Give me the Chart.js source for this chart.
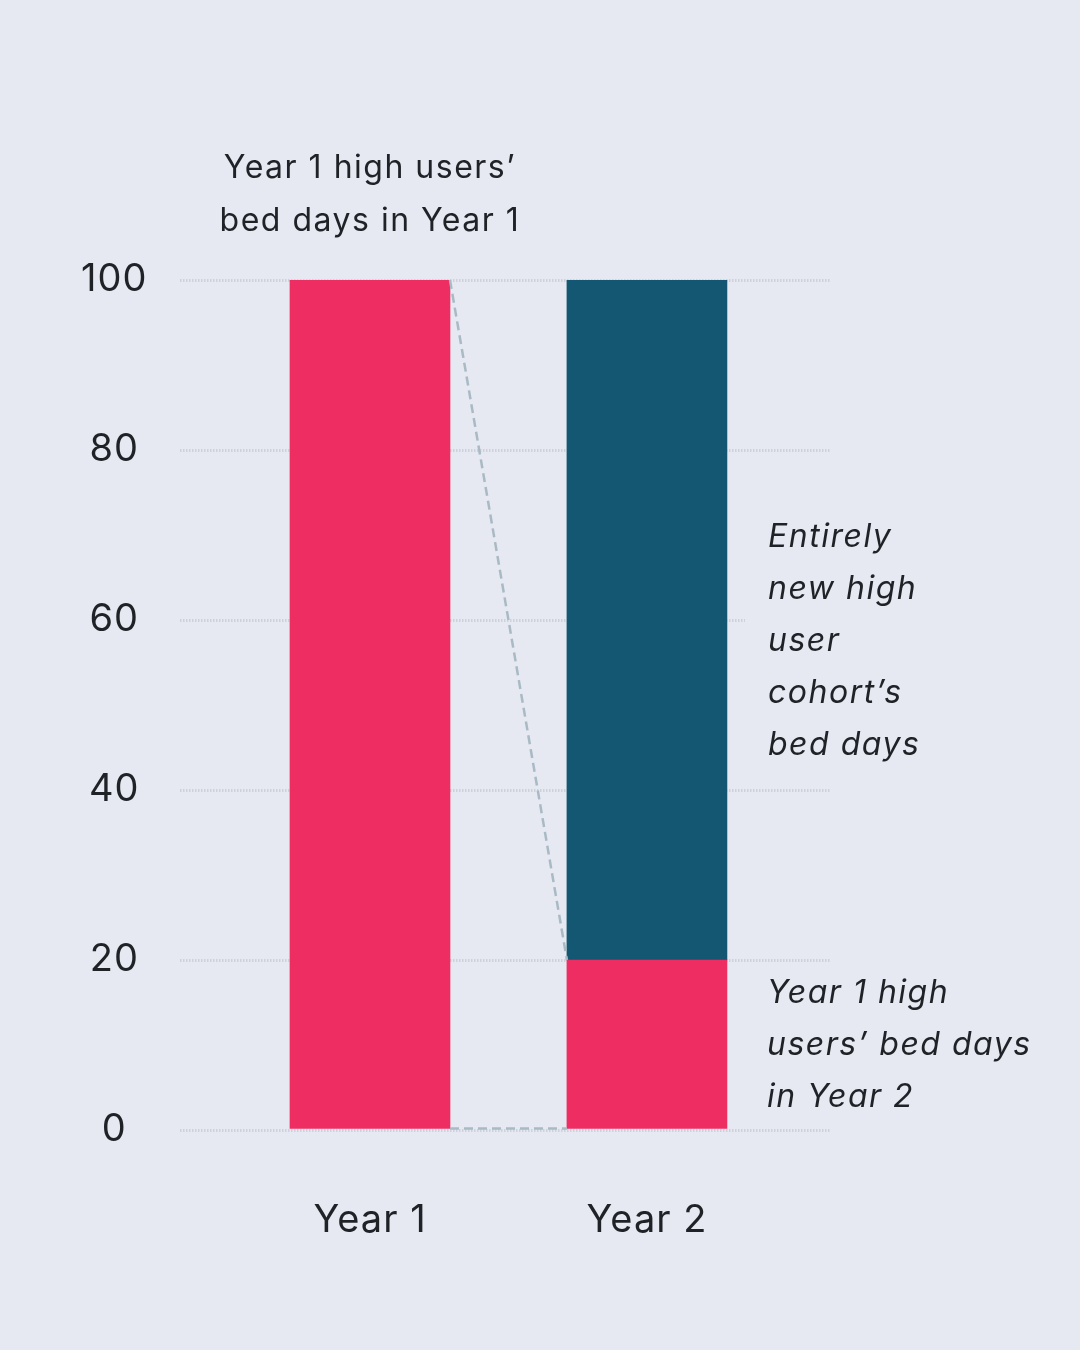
<!DOCTYPE html>
<html>
<head>
<meta charset="utf-8">
<script src="https://cdn.jsdelivr.net/npm/chart.js@4"></script>
<style>
  html, body { margin: 0; padding: 0; background: #e6e9f1; }
  #wrap { width: 1080px; height: 1350px; }
</style>
</head>
<body>
<div id="wrap"><canvas id="bedDaysChart" width="1080" height="1350"></canvas></div>
<script>
const categories = ["Year 1", "Year 2"];
const year1Users = [100, 20];
const newUsers = [0, 80];
const yTicks = [0, 20, 40, 60, 80, 100];

const topNote = ["Year 1 high users\u2019", "bed days in Year 1"];
const newNote = ["Entirely", "new high", "user", "cohort\u2019s", "bed days"];
const keptNote = ["Year 1 high", "users\u2019 bed days", "in Year 2"];

const BG = "#e6e9f1";
const PINK = "#ee2d62";
const TEAL = "#135773";
const INK = "#1f2226";

// background + notes + dashed connectors
const extras = {
  id: "extras",
  beforeDraw(chart) {
    const c = chart.ctx;
    c.save();
    c.fillStyle = BG;
    c.fillRect(0, 0, chart.width, chart.height);
    c.restore();
    c.letterSpacing = "1px";
  },
  afterDatasetsDraw(chart) {
    const c = chart.ctx;
    const a = chart.getDatasetMeta(0).data;
    c.save();
    c.strokeStyle = "#a9bac5";
    c.lineWidth = 2.5;
    c.setLineDash([9, 5]);
    c.beginPath();
    c.moveTo(a[0].x + a[0].width / 2, a[0].y);
    c.lineTo(a[1].x - a[1].width / 2, a[1].y);
    c.moveTo(a[0].x + a[0].width / 2, a[0].base);
    c.lineTo(a[1].x - a[1].width / 2, a[1].base);
    c.stroke();
    c.restore();
  },
  afterDraw(chart) {
    const c = chart.ctx;
    const xs = chart.scales.x;
    c.save();
    // keep gridlines out from behind the right-hand note
    c.fillStyle = BG;
    c.fillRect(745, 505, 335, 265);
    c.fillStyle = INK;
    c.textBaseline = "middle";
    c.letterSpacing = "1.5px";

    c.font = "32px Inter";
    c.textAlign = "center";
    topNote.forEach((t, i) => c.fillText(t, xs.getPixelForValue(1), 168 + i * 53));

    c.font = "italic 32px Inter";
    c.textAlign = "left";
    newNote.forEach((t, i) => c.fillText(t, 768, 537 + i * 52));
    keptNote.forEach((t, i) => c.fillText(t, 767, 993 + i * 52));
    c.restore();
  }
};

new Chart(document.getElementById("bedDaysChart"), {
  type: "bar",
  data: {
    datasets: [
      {
        label: "Year 1 high users\u2019 bed days",
        data: categories.map((c, i) => ({ x: i + 1, y: year1Users[i] })),
        backgroundColor: PINK,
        barThickness: 160
      },
      {
        label: "Entirely new high user cohort\u2019s bed days",
        data: categories.map((c, i) => ({ x: i + 1, y: newUsers[i] })),
        backgroundColor: TEAL,
        barThickness: 160
      }
    ]
  },
  options: {
    responsive: false,
    animation: false,
    layout: { padding: { top: 280, right: 250, bottom: 0, left: 0 } },
    plugins: { legend: { display: false }, tooltip: { enabled: false } },
    scales: {
      x: {
        type: "linear",
        stacked: true,
        offset: false,
        min: 0.314,
        max: 2.661,
        grid: { display: false },
        border: { display: false },
        afterBuildTicks: (s) => { s.ticks = categories.map((c, i) => ({ value: i + 1 })); },
        afterFit: (s) => { s.height = 220; },
        ticks: {
          padding: 60,
          color: INK,
          font: { family: "Inter", size: 38 },
          callback: (v) => categories[v - 1]
        }
      },
      y: {
        stacked: true,
        min: 0,
        max: 100,
        afterBuildTicks: (s) => { s.ticks = yTicks.map(v => ({ value: v })); },
        afterFit: (s) => { s.width = 180; },
        grid: { color: "#cdd1d9", lineWidth: 3, drawTicks: false },
        border: { display: false, dash: [1.5, 1.5] },
        ticks: {
          crossAlign: "center",
          padding: 34,
          color: INK,
          font: { family: "Inter", size: 38 }
        }
      }
    }
  },
  plugins: [extras]
});
</script>
</body>
</html>
